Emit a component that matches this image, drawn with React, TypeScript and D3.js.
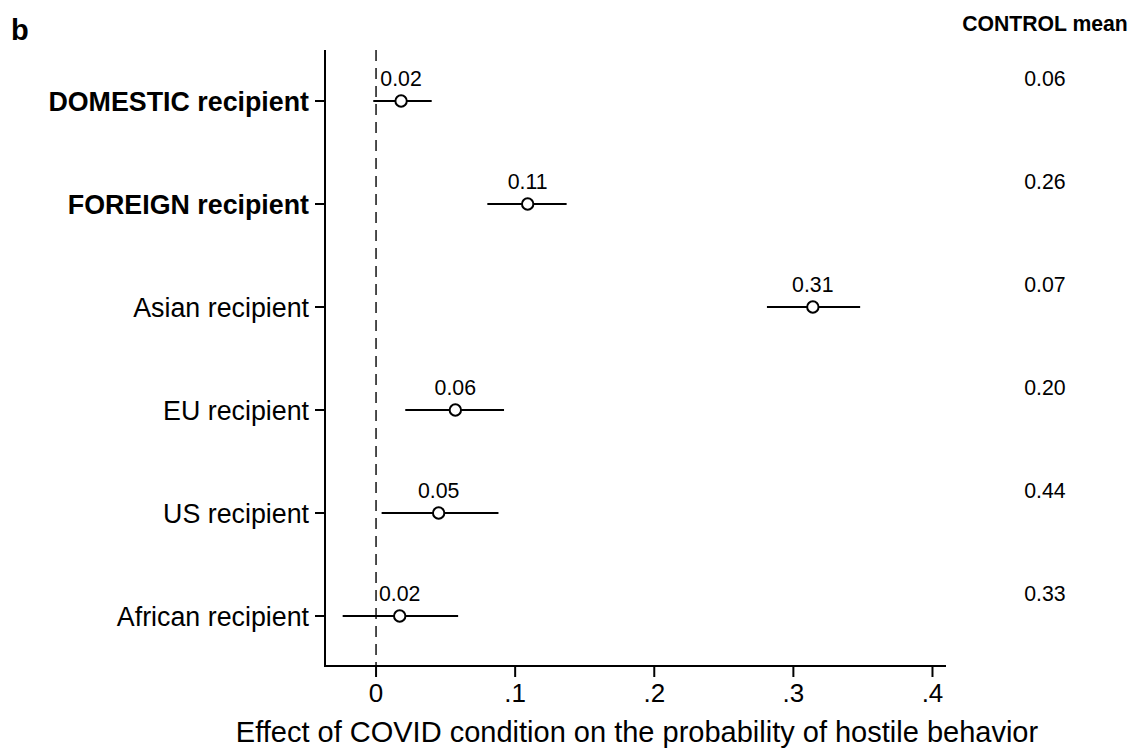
import React from "react";
import * as d3 from "d3";

const categories = [
  "DOMESTIC recipient",
  "FOREIGN recipient",
  "Asian recipient",
  "EU recipient",
  "US recipient",
  "African recipient",
];
const boldCategories = [true, true, false, false, false, false];
const estimates = [0.018, 0.109, 0.314, 0.057, 0.045, 0.017];
const ciLow = [-0.002, 0.08, 0.281, 0.021, 0.004, -0.024];
const ciHigh = [0.04, 0.137, 0.348, 0.092, 0.088, 0.059];
const estimateLabels = ["0.02", "0.11", "0.31", "0.06", "0.05", "0.02"];
const controlMeans = ["0.06", "0.26", "0.07", "0.20", "0.44", "0.33"];
const xTicks = [0, 0.1, 0.2, 0.3, 0.4];
const xTickLabels = ["0", ".1", ".2", ".3", ".4"];

const W = 1136;
const H = 749;
const FONT = "'Liberation Sans', Arial, sans-serif";

export default function App() {
  const x = d3.scaleLinear().domain([-0.0367, 0.409]).range([325, 945]);
  const y = d3.scalePoint<string>().domain(categories).range([101, 616]);
  const axisY = 666;
  const axisTop = 50;

  return (
    <svg
      width={W}
      height={H}
      style={{ position: "absolute", left: 0, top: 0, background: "#fff" }}
      fontFamily={FONT}
    >
      <rect width={W} height={H} fill="#fff" />
      <text x={11} y={40} fontSize={29} fontWeight="bold" fill="#000">
        b
      </text>
      <text x={1045} y={31} fontSize={21.2} fontWeight="bold" textAnchor="middle" fill="#000">
        CONTROL mean
      </text>

      {/* zero line */}
      <line
        x1={x(0)}
        x2={x(0)}
        y1={axisTop}
        y2={axisY}
        stroke="#3a3a3a"
        strokeWidth={1.8}
        strokeDasharray="11,7"
      />

      {/* left axis */}
      <line x1={325} x2={325} y1={axisTop} y2={axisY + 1} stroke="#000" strokeWidth={2} />
      {categories.map((c, i) => (
        <g key={c}>
          <line x1={315} x2={325} y1={y(c)} y2={y(c)} stroke="#000" strokeWidth={2} />
          <text
            x={309}
            y={(y(c) as number) + 10}
            fontSize={26.8}
            textAnchor="end"
            fontWeight={boldCategories[i] ? "bold" : "normal"}
            fill="#000"
          >
            {c}
          </text>
        </g>
      ))}

      {/* bottom axis */}
      <line x1={324} x2={946} y1={axisY} y2={axisY} stroke="#000" strokeWidth={2} />
      {xTicks.map((t, i) => (
        <g key={t}>
          <line x1={x(t)} x2={x(t)} y1={axisY} y2={axisY + 11} stroke="#000" strokeWidth={2} />
          <text x={x(t)} y={axisY + 36} fontSize={26} textAnchor="middle" fill="#000">
            {xTickLabels[i]}
          </text>
        </g>
      ))}
      <text x={637} y={742} fontSize={29} textAnchor="middle" fill="#000">
        Effect of COVID condition on the probability of hostile behavior
      </text>

      {/* estimates */}
      {categories.map((c, i) => {
        const cy = y(c) as number;
        return (
          <g key={"e" + c}>
            <line x1={x(ciLow[i])} x2={x(ciHigh[i])} y1={cy} y2={cy} stroke="#000" strokeWidth={2} />
            <circle cx={x(estimates[i])} cy={cy} r={5.7} fill="#fff" stroke="#000" strokeWidth={2} />
            <text x={x(estimates[i])} y={cy - 15} fontSize={21.3} textAnchor="middle" fill="#000">
              {estimateLabels[i]}
            </text>
            <text x={1045} y={cy - 15} fontSize={21.3} textAnchor="middle" fill="#000">
              {controlMeans[i]}
            </text>
          </g>
        );
      })}
    </svg>
  );
}
